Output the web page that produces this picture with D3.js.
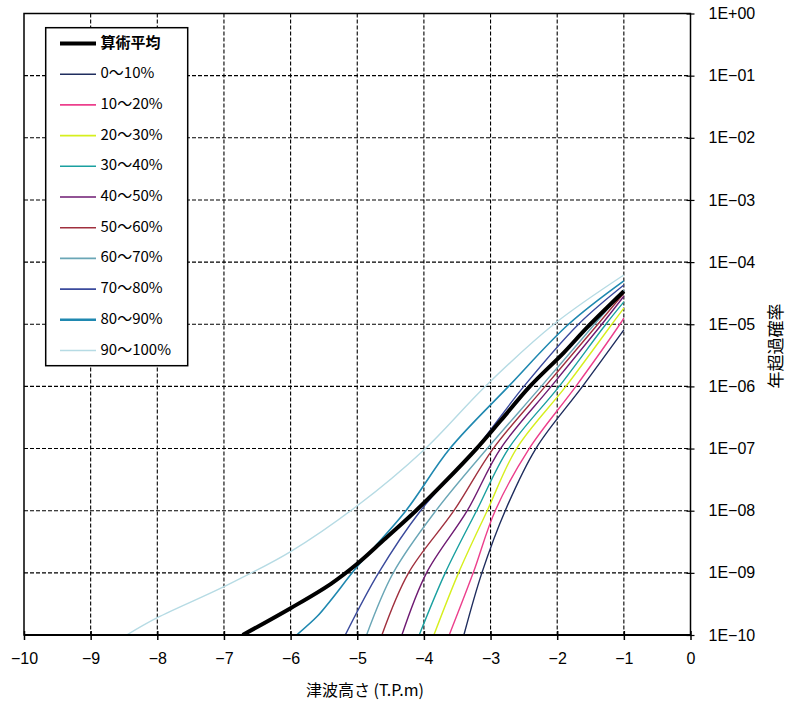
<!DOCTYPE html>
<html>
<head>
<meta charset="utf-8">
<script src="https://cdn.jsdelivr.net/npm/d3@7"></script>
<style>
  body { margin: 0; background: #fff; }
  svg { display: block; }
</style>
</head>
<body>
<svg id="chart" width="789" height="709"></svg>
<script>
// series: [tsunami height (T.P.m), annual exceedance probability]
var meanCurve = [[-6.72,1e-10],[-6.0,2.7e-10],[-5.4,6.6e-10],[-5.0,1.4e-9],[-4.6,3.4e-9],[-4.12,1e-8],[-3.7,2.8e-8],[-3.21,1e-7],[-2.85,2.8e-7],[-2.41,1e-6],[-1.9,3.5e-6],[-1.55,8.9e-6],[-1,3.4e-5]];
var frac0010 = [[-3.40,1e-10],[-3.13,1e-9],[-2.78,1e-8],[-2.32,1e-7],[-1.62,1e-6],[-1,8.1e-6]];
var frac1020 = [[-3.62,1e-10],[-3.26,1e-9],[-2.93,1e-8],[-2.42,1e-7],[-1.72,1e-6],[-1.06,1e-5],[-1,1.26e-5]];
var frac2030 = [[-3.85,1e-10],[-3.48,1e-9],[-3.05,1e-8],[-2.61,1e-7],[-1.87,1e-6],[-1.18,1e-5],[-1,1.82e-5]];
var frac3040 = [[-4.07,1e-10],[-3.68,1e-9],[-3.21,1e-8],[-2.73,1e-7],[-1.97,1e-6],[-1.27,1e-5],[-1,2.29e-5]];
var frac4050 = [[-4.33,1e-10],[-3.96,1e-9],[-3.35,1e-8],[-2.85,1e-7],[-2.09,1e-6],[-1.33,1e-5],[-1,2.82e-5]];
var frac5060 = [[-4.63,1e-10],[-4.23,1e-9],[-3.55,1e-8],[-2.96,1e-7],[-2.18,1e-6],[-1.39,1e-5],[-1,3.16e-5]];
var frac6070 = [[-4.86,1e-10],[-4.46,1e-9],[-3.82,1e-8],[-3.05,1e-7],[-2.24,1e-6],[-1.44,1e-5],[-1,3.55e-5]];
var frac7080 = [[-5.18,1e-10],[-4.68,1e-9],[-4.05,1e-8],[-3.22,1e-7],[-2.5,1e-6],[-1.68,1e-5],[-1,4.27e-5]];
var frac8090 = [[-5.91,1e-10],[-5.6,2.0e-10],[-5.4,3.6e-10],[-5.0,1.26e-9],[-4.27,1e-8],[-3.61,1e-7],[-2.73,1e-6],[-1.83,1e-5],[-1,5.0e-5]];
var frac90100 = [[-8.46,1e-10],[-8.0,1.9e-10],[-7.0,6.0e-10],[-6.0,2.2e-9],[-5.0,1.2e-8],[-4.0,9.5e-8],[-3.08,1e-6],[-2.05,1e-5],[-1,6.2e-5]];

var legendLabels = ['算術平均','0～10%','10～20%','20～30%','30～40%','40～50%','50～60%','60～70%','70～80%','80～90%','90～100%'];
var seriesData = [meanCurve, frac0010, frac1020, frac2030, frac3040, frac4050, frac5060, frac6070, frac7080, frac8090, frac90100];
var colors = ['#000000','#1f2d5e','#ec3f8c','#d6ef1e','#1aa0a0','#6e1a72','#a0303e','#6aa6b6','#3a4a9c','#1f88b0','#b6dbe4'];
var widths = [4, 1.4, 1.4, 1.4, 1.4, 1.4, 1.4, 1.4, 1.4, 1.6, 1.4];

var xTicks = d3.range(-10, 1, 1);
var yTicks = d3.range(0, -11, -1).map(function(e) { return Math.pow(10, e); });

(function() {
    var pLeft = 24, pRight = 690.5, pTop = 13.5, pBottom = 635;
    var svg = d3.select('#chart');
    var numFont = '"Liberation Sans", Arial, sans-serif';
    var jpFont = '"Noto Sans CJK JP", sans-serif';

    var x = d3.scaleLinear().domain([-10, 0]).range([pLeft, pRight]);
    var y = d3.scaleLog().domain([1, 1e-10]).range([pTop, pBottom]);

    // grid
    var grid = svg.append('g').attr('stroke', '#000').attr('stroke-width', 1.1).attr('stroke-dasharray', '4,2');
    grid.selectAll('.vg').data(xTicks.slice(1, -1)).enter().append('line')
        .attr('x1', function(d) { return x(d); }).attr('x2', function(d) { return x(d); })
        .attr('y1', pTop).attr('y2', pBottom);
    grid.selectAll('.hg').data(yTicks.slice(1, -1)).enter().append('line')
        .attr('x1', pLeft).attr('x2', pRight)
        .attr('y1', function(d) { return y(d); }).attr('y2', function(d) { return y(d); });

    // curves
    svg.append('clipPath').attr('id', 'plotClip').append('rect')
        .attr('x', pLeft).attr('y', pTop).attr('width', pRight - pLeft).attr('height', pBottom - pTop);
    var line = d3.line()
        .x(function(d) { return x(d[0]); })
        .y(function(d) { return y(d[1]); })
        .curve(d3.curveCatmullRom.alpha(0.5));
    var curves = svg.append('g').attr('clip-path', 'url(#plotClip)');
    // mean goes last so it sits on top
    [10, 9, 8, 7, 6, 5, 4, 3, 2, 1, 0].forEach(function(i) {
        curves.append('path')
            .attr('d', line(seriesData[i]))
            .attr('fill', 'none')
            .attr('stroke', colors[i])
            .attr('stroke-width', widths[i])
            .attr('stroke-linejoin', 'round');
    });

    // frame
    svg.append('rect').attr('x', pLeft).attr('y', pTop).attr('width', pRight - pLeft).attr('height', pBottom - pTop)
        .attr('fill', 'none').attr('stroke', '#000').attr('stroke-width', 1.5);
    svg.append('line').attr('x1', pLeft).attr('x2', pRight).attr('y1', pBottom).attr('y2', pBottom)
        .attr('stroke', '#000').attr('stroke-width', 2);

    // axes
    var xAxis = svg.append('g').attr('transform', 'translate(0,' + pBottom + ')')
        .call(d3.axisBottom(x).tickValues(xTicks).tickSize(5).tickPadding(13));
    xAxis.select('.domain').remove();
    xAxis.selectAll('.tick line').attr('y1', -4).attr('stroke-width', 1.5);
    xAxis.selectAll('text').attr('font-family', numFont).attr('font-size', 16).attr('fill', '#000');

    var yAxis = svg.append('g').attr('transform', 'translate(' + pRight + ',0)')
        .call(d3.axisRight(y).tickValues(yTicks).tickSize(4).tickPadding(14)
            .tickFormat(function(d) {
                var e = Math.round(Math.log10(d));
                return '1E' + (e >= 0 ? '+' : '\u2212') + d3.format('02d')(Math.abs(e));
            }));
    yAxis.select('.domain').remove();
    yAxis.selectAll('.tick line').attr('x1', -4).attr('stroke-width', 1.2);
    yAxis.selectAll('text').attr('font-family', numFont).attr('font-size', 16).attr('fill', '#000');

    // axis titles
    svg.append('text').attr('x', 365).attr('y', 692).attr('text-anchor', 'middle').attr('dominant-baseline', 'middle')
        .attr('font-family', jpFont).attr('font-size', 16).text('津波高さ (T.P.m)');
    svg.append('text').attr('transform', 'translate(777,346) rotate(-90)')
        .attr('text-anchor', 'middle').attr('dominant-baseline', 'middle')
        .attr('font-family', jpFont).attr('font-size', 17).text('年超過確率');

    // legend
    var lg = svg.append('g');
    lg.append('rect').attr('x', 45.7).attr('y', 27.7).attr('width', 142).attr('height', 338)
        .attr('fill', '#fff').attr('stroke', '#000').attr('stroke-width', 1.5);
    legendLabels.forEach(function(lbl, i) {
        var ly = 43.5 + i * 30.7;
        lg.append('line').attr('x1', 60).attr('x2', 96).attr('y1', ly).attr('y2', ly)
            .attr('stroke', colors[i]).attr('stroke-width', i === 0 ? 4 : (i === 9 ? 2.4 : 1.6));
        lg.append('text').attr('x', 100.5).attr('y', ly).attr('dominant-baseline', 'middle')
            .attr('font-family', jpFont).attr('font-size', 15)
            .attr('font-weight', i === 0 ? 'bold' : 'normal')
            .text(lbl);
    });
})();
</script>
</body>
</html>
